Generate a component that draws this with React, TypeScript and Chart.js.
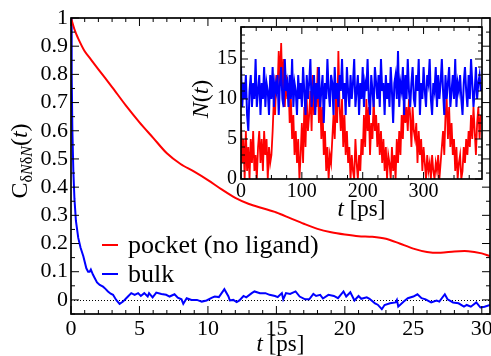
import React, { useEffect, useRef } from "react";
import { Chart, registerables } from "chart.js";

Chart.register(...registerables);

const SERIF = '"Liberation Serif", "Times New Roman", serif';

// ---------- main panel data ----------
const pocketT = [0, 0.25, 0.5, 1, 1.5, 2, 3, 4, 5, 6, 7, 8, 9, 10, 11, 12, 13, 14, 15, 16, 17, 18, 19, 20, 21, 22, 23, 24, 25, 26, 27, 28, 29, 30, 30.6];
const pocketC = [1.0, 0.96, 0.93, 0.882, 0.85, 0.818, 0.755, 0.69, 0.63, 0.575, 0.52, 0.482, 0.455, 0.425, 0.392, 0.362, 0.34, 0.325, 0.31, 0.29, 0.27, 0.252, 0.24, 0.232, 0.226, 0.224, 0.217, 0.2, 0.182, 0.17, 0.167, 0.172, 0.173, 0.165, 0.155];

const bulkT = [0, 0.05, 0.1, 0.17, 0.25, 0.36, 0.53, 0.7, 0.9, 1.12, 1.25, 1.36, 1.45, 1.6, 1.73, 1.9, 2.1, 2.34, 2.5, 2.7, 2.9, 3.07, 3.3, 3.55, 3.8, 4.0, 4.16, 4.4, 4.65, 4.9, 5.1, 5.35, 5.6, 5.7, 5.96, 6.23, 6.6, 6.95, 7.2, 7.56, 7.8, 8.07, 8.2, 8.45, 8.8, 9.2, 9.55, 9.9, 10.3, 10.5, 10.8, 11.2, 11.5, 11.6, 11.85, 12.1, 12.3, 12.6, 12.8, 13.2, 13.4, 13.8, 14.2, 14.5, 14.9, 15.1, 15.4, 15.5, 15.7, 16.0, 16.4, 16.7, 17.1, 17.4, 17.7, 17.9, 18.2, 18.4, 18.8, 19.2, 19.5, 19.9, 20.1, 20.4, 20.7, 21.0, 21.2, 21.6, 21.8, 22.2, 22.4, 22.7, 22.9, 23.3, 23.7, 23.8, 23.9, 24.3, 24.6, 25.0, 25.3, 25.6, 25.9, 26.3, 26.7, 26.9, 27.3, 27.5, 27.9, 28.3, 28.7, 28.9, 29.2, 29.6, 29.9, 30.2, 30.6];
const bulkC = [1.0, 0.8, 0.6, 0.46, 0.36, 0.28, 0.22, 0.185, 0.155, 0.112, 0.1, 0.1, 0.108, 0.09, 0.078, 0.062, 0.053, 0.047, 0.04, 0.03, 0.022, 0.018, 0.0, -0.014, -0.006, 0.004, 0.012, 0.024, 0.018, 0.024, 0.014, 0.024, 0.012, 0.024, 0.009, 0.026, 0.021, 0.018, 0.012, 0.02, 0.008, 0.002, -0.014, 0.006, 0.0, 0.0, -0.006, -0.002, 0.008, 0.012, 0.01, 0.038, 0.012, -0.002, 0.0, -0.008, -0.002, 0.014, 0.009, 0.024, 0.03, 0.024, 0.024, 0.018, 0.014, 0.01, 0.024, 0.002, 0.024, 0.021, 0.03, 0.012, 0.002, 0.002, 0.021, 0.014, 0.018, 0.005, 0.018, 0.014, 0.006, 0.03, 0.012, 0.027, -0.002, 0.014, 0.004, 0.009, 0.004, -0.012, -0.017, -0.033, -0.018, -0.012, -0.009, 0.0, -0.024, -0.006, 0.006, 0.012, 0.02, 0.006, 0.002, -0.009, -0.002, -0.006, 0.02, 0.002, -0.009, -0.012, -0.024, -0.018, -0.024, -0.009, -0.027, -0.024, -0.018];

const legendLabels = ["pocket (no ligand)", "bulk"];
const mainXTicks = [0, 5, 10, 15, 20, 25, 30];
const mainXTickLabels = ["0", "5", "10", "15", "20", "25", "30"];
const mainYTicks = [0, 0.1, 0.2, 0.3, 0.4, 0.5, 0.6, 0.7, 0.8, 0.9, 1];
const mainYTickLabels = ["0", "0.1", "0.2", "0.3", "0.4", "0.5", "0.6", "0.7", "0.8", "0.9", "1"];

// ---------- inset data: N(t), sampled every 2 ps ----------
const insetStepPs = 2;
const insetPocket = [
  7, 2, 5, 0, 6, 1,
  4, 0, 5, 2, 6, 1, 3, 0, 4,
  6, 2, 5, 1, 6, 3, 5, 0, 4, 2, 3,
  6, 10, 8, 13, 11, 16, 12, 17,
  11, 15, 9, 13, 10, 12,
  7, 10, 5, 8, 3, 6, 2, 5, 0, 3,
  7, 2, 9, 4, 10, 6, 8,
  11, 6, 13, 8, 12, 9, 14, 7, 11, 5, 9,
  3, 6, 1, 4, 0, 3, 2, 5,
  8, 5, 10, 7, 16, 9,
  6, 10, 4, 8, 3, 6, 2,
  4, 0, 3, 1, 0, 5, 2, 0, 3, 1,
  5, 3, 8, 4, 10, 6, 9, 3, 7, 5, 10, 6, 8,
  4, 7, 3, 6, 2, 5,
  1, 4, 0, 3, 2, 0, 4, 1, 3, 0, 5, 2,
  6, 3, 8, 5, 10, 7, 9, 6, 10, 8, 4, 9, 6,
  5, 7, 2, 6, 3, 5, 1, 4,
  2, 0, 3, 1, 2, 0, 3, 1, 0, 2, 1, 3, 0, 2, 4,
  6, 3, 8, 10, 5, 9, 4, 7,
  3, 5, 1, 4, 0, 2, 3, 0, 1, 4, 2, 5, 3,
  6, 4, 8, 5, 9, 6, 3, 7, 9, 5, 8,
];
const insetBulk = [
  14, 9, 12, 10, 13, 8, 6, 11, 13, 9, 12, 10, 15, 9, 11, 13, 8, 12, 10, 14,
  9, 12, 11, 8, 13, 10, 14, 9, 12, 11, 13, 8, 12, 14, 10, 9, 15, 11, 12, 9,
  13, 10, 15, 9, 12, 11, 8, 13, 10, 12, 9, 14, 11, 8, 13, 10, 12, 15, 9, 11,
  13, 8, 12, 10, 14, 9, 11, 13, 7, 12, 10, 15, 11, 9, 13, 12, 8, 14, 10, 12,
  9, 13, 11, 15, 10, 12, 8, 14, 11, 9, 13, 10, 12, 15, 9, 11, 13, 8, 12, 10,
  14, 9, 12, 11, 15, 10, 8, 13, 11, 9, 14, 12, 10, 13, 9, 15, 11, 12, 8, 13,
  10, 12, 9, 14, 11, 7, 12, 13, 10, 16, 9, 12, 11, 14, 8, 13, 10, 15, 11, 9,
  12, 14, 10, 9, 13, 11, 15, 8, 12, 10, 14, 11, 9, 13, 12, 15, 10, 8, 12, 11,
  14, 9, 13, 10, 12, 15, 11, 8, 13, 10, 12, 14, 9, 11, 13, 10, 15, 9, 12, 11,
  13, 10, 8, 12, 14, 11, 9, 13, 10, 15, 12, 9, 11, 14, 10, 12, 13, 11,
];
const insetXTicks = [0, 100, 200, 300];
const insetXTickLabels = ["0", "100", "200", "300"];
const insetYTicks = [0, 5, 10, 15];
const insetYTickLabels = ["0", "5", "10", "15"];

const RED = "#ff0000";
const BLUE = "#0000ff";

type Part = { text: string; size: number; italic?: boolean; dy?: number };

function partsWidth(ctx: CanvasRenderingContext2D, parts: Part[]) {
  let w = 0;
  for (const p of parts) {
    ctx.font = `${p.italic ? "italic " : ""}${p.size}px ${SERIF}`;
    w += ctx.measureText(p.text).width;
  }
  return w;
}
function drawParts(ctx: CanvasRenderingContext2D, parts: Part[], x: number, y: number) {
  let cx = x;
  ctx.textBaseline = "alphabetic";
  ctx.textAlign = "left";
  for (const p of parts) {
    ctx.font = `${p.italic ? "italic " : ""}${p.size}px ${SERIF}`;
    ctx.fillText(p.text, cx, y + (p.dy || 0));
    cx += ctx.measureText(p.text).width;
  }
}

function drawFrame(chart: any, xMajor: number[], xMinor: number, yMajor: number[], yMinor: number, majLen: number, minLen: number) {
  const { ctx, chartArea: a, scales } = chart;
  const xs = scales.x, ys = scales.y;
  ctx.save();
  ctx.strokeStyle = "#000";
  ctx.lineWidth = 1;
  ctx.beginPath();
  const kx0 = Math.ceil(xs.min / xMinor - 1e-6), kx1 = Math.floor(xs.max / xMinor + 1e-6);
  for (let k = kx0; k <= kx1; k++) {
    const v = k * xMinor;
    const maj = xMajor.some((m) => Math.abs(m - v) < 1e-6);
    const len = maj ? majLen : minLen;
    const px = xs.getPixelForValue(v);
    ctx.moveTo(px, a.bottom); ctx.lineTo(px, a.bottom - len);
    ctx.moveTo(px, a.top); ctx.lineTo(px, a.top + len);
  }
  const ky0 = Math.ceil(ys.min / yMinor - 1e-6), ky1 = Math.floor(ys.max / yMinor + 1e-6);
  for (let k = ky0; k <= ky1; k++) {
    const v = k * yMinor;
    const maj = yMajor.some((m) => Math.abs(m - v) < 1e-6);
    const len = maj ? majLen : minLen;
    const py = ys.getPixelForValue(v);
    ctx.moveTo(a.left, py); ctx.lineTo(a.left + len, py);
    ctx.moveTo(a.right, py); ctx.lineTo(a.right - len, py);
  }
  ctx.stroke();
  ctx.lineWidth = 1.7;
  ctx.strokeRect(a.left, a.top, a.right - a.left, a.bottom - a.top);
  ctx.restore();
}

const mainDecor = {
  id: "mainDecor",
  beforeDatasetsDraw(chart: any) {
    const { ctx, chartArea: a, scales } = chart;
    const y0 = scales.y.getPixelForValue(0);
    ctx.save();
    ctx.strokeStyle = "#000";
    ctx.lineWidth = 1;
    ctx.setLineDash([1, 2]);
    ctx.beginPath();
    ctx.moveTo(a.left, Math.round(y0) + 0.5);
    ctx.lineTo(a.right, Math.round(y0) + 0.5);
    ctx.stroke();
    ctx.restore();
  },
  afterDraw(chart: any) {
    const { ctx, chartArea: a } = chart;
    drawFrame(chart, mainXTicks, 1, mainYTicks, 0.05, 8, 4);
    ctx.save();
    ctx.fillStyle = "#000";
    // legend
    const ds = chart.data.datasets;
    const rows = [{ d: ds[0], y: 245 }, { d: ds[1], y: 274 }];
    for (const r of rows) {
      ctx.strokeStyle = r.d.borderColor;
      ctx.lineWidth = 2;
      ctx.beginPath();
      ctx.moveTo(a.left + 31, r.y);
      ctx.lineTo(a.left + 47, r.y);
      ctx.stroke();
      ctx.fillStyle = "#000";
      drawParts(ctx, [{ text: r.d.label, size: 26 }], a.left + 57, r.y + 8);
    }
    // x title
    const xt: Part[] = [{ text: "t", size: 23, italic: true }, { text: " [ps]", size: 23 }];
    const xw = partsWidth(ctx, xt);
    drawParts(ctx, xt, (a.left + a.right) / 2 - xw / 2, 351);
    // y title
    const yt: Part[] = [
      { text: "C", size: 24 },
      { text: "δ", size: 16, dy: 5 },
      { text: "N", size: 16, italic: true, dy: 5 },
      { text: "δ", size: 16, dy: 5 },
      { text: "N", size: 16, italic: true, dy: 5 },
      { text: "(", size: 24 },
      { text: "t", size: 24, italic: true },
      { text: ")", size: 24 },
    ];
    const yw = partsWidth(ctx, yt);
    ctx.translate(27, 161);
    ctx.rotate(-Math.PI / 2);
    drawParts(ctx, yt, -yw / 2, 0);
    ctx.restore();
  },
};

const insetDecor = {
  id: "insetDecor",
  beforeDatasetsDraw(chart: any) {
    const { ctx, chartArea: a } = chart;
    ctx.save();
    ctx.fillStyle = "#fff";
    ctx.fillRect(a.left, a.top, a.right - a.left, a.bottom - a.top);
    ctx.restore();
  },
  afterDraw(chart: any) {
    const { ctx, chartArea: a } = chart;
    drawFrame(chart, insetXTicks, 25, insetYTicks, 1, 7, 4);
    ctx.save();
    ctx.fillStyle = "#000";
    const xt: Part[] = [{ text: "t", size: 23, italic: true }, { text: " [ps]", size: 23 }];
    const xw = partsWidth(ctx, xt);
    drawParts(ctx, xt, (a.left + a.right) / 2 - xw / 2, 216);
    const yt: Part[] = [
      { text: "N", size: 24, italic: true },
      { text: "(", size: 24 },
      { text: "t", size: 24, italic: true },
      { text: ")", size: 24 },
    ];
    const yw = partsWidth(ctx, yt);
    ctx.translate(18, (a.top + a.bottom) / 2 - 4);
    ctx.rotate(-Math.PI / 2);
    drawParts(ctx, yt, -yw / 2, 0);
    ctx.restore();
  },
};

function axisX(min: number, max: number, ticks: number[], labels: string[], size: number, h: number, pad: number) {
  return {
    type: "linear" as const,
    min,
    max,
    afterBuildTicks: (s: any) => { s.ticks = ticks.map((v) => ({ value: v })); },
    afterFit: (s: any) => { s.height = h; s.paddingLeft = 0; s.paddingRight = 0; },
    grid: { display: false, drawTicks: false },
    border: { display: false },
    ticks: { font: { family: SERIF, size }, color: "#000", padding: pad, maxRotation: 0, autoSkip: false, callback: (_v: any, i: number) => labels[i] },
  };
}
function axisY(min: number, max: number, ticks: number[], labels: string[], size: number, w: number, pad: number) {
  return {
    type: "linear" as const,
    min,
    max,
    afterBuildTicks: (s: any) => { s.ticks = ticks.map((v) => ({ value: v })); },
    afterFit: (s: any) => { s.width = w; s.paddingTop = 0; s.paddingBottom = 0; },
    grid: { display: false, drawTicks: false },
    border: { display: false },
    ticks: { font: { family: SERIF, size }, color: "#000", padding: pad, autoSkip: false, callback: (_v: any, i: number) => labels[i] },
  };
}

export default function App() {
  const mainRef = useRef<HTMLCanvasElement>(null);
  const insetRef = useRef<HTMLCanvasElement>(null);

  useEffect(() => {
    const main = new Chart(mainRef.current!, {
      type: "line",
      data: {
        datasets: [
          { label: legendLabels[0], data: pocketT.map((t, i) => ({ x: t, y: pocketC[i] })), borderColor: RED, borderWidth: 2, pointRadius: 0, tension: 0.3, fill: false },
          { label: legendLabels[1], data: bulkT.map((t, i) => ({ x: t, y: bulkC[i] })), borderColor: BLUE, borderWidth: 2, pointRadius: 0, tension: 0, fill: false },
        ],
      },
      options: {
        animation: false,
        responsive: true,
        maintainAspectRatio: false,
        events: [],
        layout: { padding: { top: 18, right: 1, left: 0, bottom: 0 } },
        plugins: { legend: { display: false }, tooltip: { enabled: false } },
        scales: {
          x: axisX(0, 30.6, mainXTicks, mainXTickLabels, 22, 42, 2),
          y: axisY(-0.05, 1, mainYTicks, mainYTickLabels, 22, 71, 3),
        },
      } as any,
      plugins: [mainDecor],
    });

    const inset = new Chart(insetRef.current!, {
      type: "line",
      data: {
        datasets: [
          { label: legendLabels[1], data: insetBulk.map((n, i) => ({ x: i * insetStepPs, y: n })), borderColor: BLUE, borderWidth: 2, pointRadius: 0, tension: 0, fill: false },
          { label: legendLabels[0], data: insetPocket.map((n, i) => ({ x: i * insetStepPs, y: n })), borderColor: RED, borderWidth: 1.8, pointRadius: 0, tension: 0, fill: false },
        ],
      },
      options: {
        animation: false,
        responsive: true,
        maintainAspectRatio: false,
        events: [],
        layout: { padding: { top: 27, right: 9, left: 0, bottom: 0 } },
        plugins: { legend: { display: false }, tooltip: { enabled: false } },
        scales: {
          x: axisX(0, 396, insetXTicks, insetXTickLabels, 20, 46, 1),
          y: axisY(0, 19, insetYTicks, insetYTickLabels, 20, 51, 4),
        },
      } as any,
      plugins: [insetDecor],
    });

    return () => {
      main.destroy();
      inset.destroy();
    };
  }, []);

  return (
    <div style={{ position: "fixed", left: 0, top: 0, width: 491, height: 356, background: "#fff" }}>
      <div style={{ position: "absolute", left: 0, top: 0, width: 491, height: 356 }}>
        <canvas ref={mainRef} />
      </div>
      <div style={{ position: "absolute", left: 190, top: 0, width: 301, height: 225 }}>
        <canvas ref={insetRef} />
      </div>
    </div>
  );
}
